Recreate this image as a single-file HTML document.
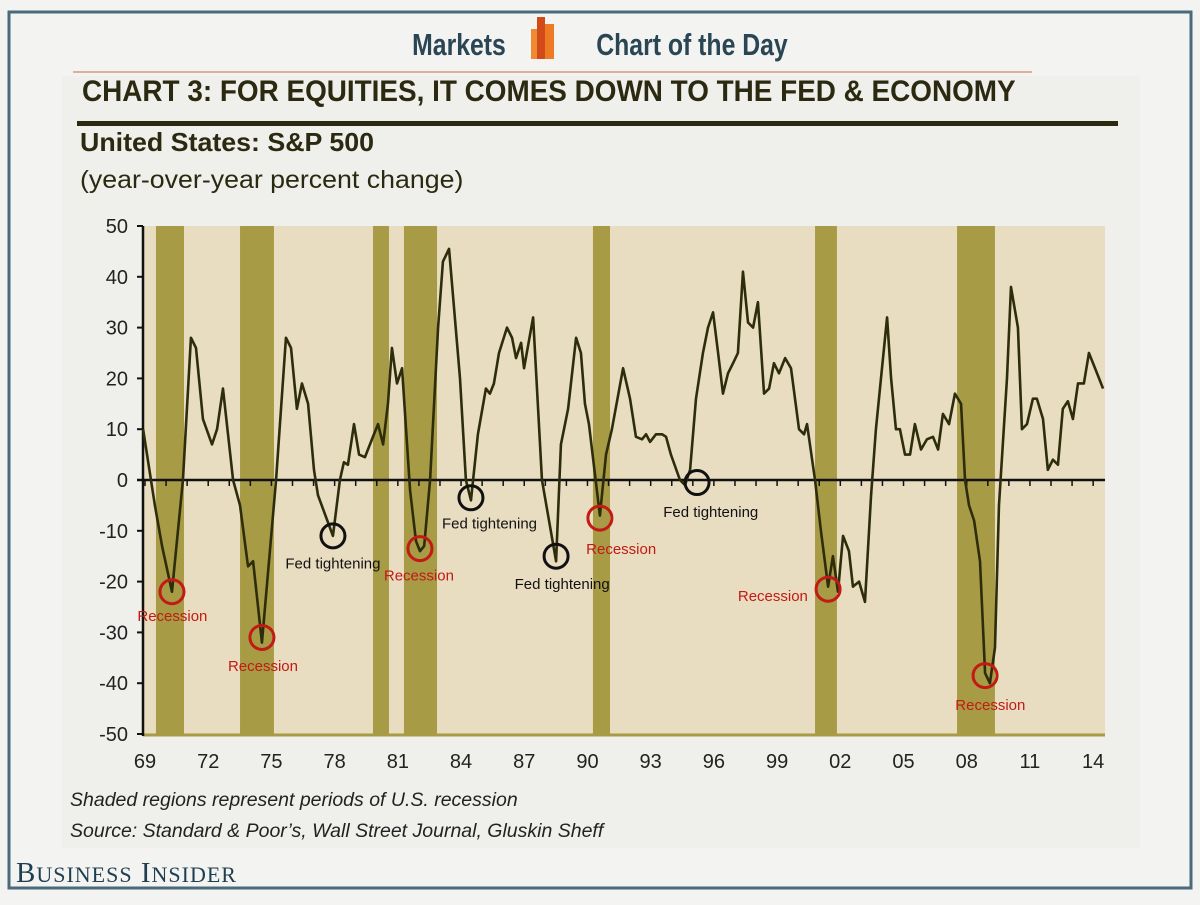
<!DOCTYPE html>
<html><head><meta charset="utf-8">
<style>
html,body{margin:0;padding:0;background:#f4f4f2;}
body{width:1200px;height:900px;position:relative;overflow:hidden;font-family:"Liberation Sans",sans-serif;}
</style></head>
<body>
<svg width="1200" height="900" viewBox="0 0 1200 900" xmlns="http://www.w3.org/2000/svg">
<rect x="0" y="0" width="1200" height="900" fill="#f3f3f1"/>
<rect x="9" y="12" width="1182" height="876" fill="none" stroke="#4a6a7a" stroke-width="3"/>
<rect x="62" y="76" width="1078" height="772" fill="#efefec"/>
<text x="459" y="55" font-size="31" font-weight="bold" fill="#2a4654" text-anchor="middle" transform="translate(459,0) scale(0.8,1) translate(-459,0)">Markets</text>
<g>
<rect x="531" y="29" width="10" height="30" fill="#f08a30"/>
<rect x="537" y="17" width="8" height="42" fill="#d24a1a"/>
<rect x="545" y="24" width="9" height="35" fill="#ef7a24"/>
</g>
<text x="692" y="55" font-size="31" font-weight="bold" fill="#2a4654" text-anchor="middle" transform="translate(692,0) scale(0.8,1) translate(-692,0)">Chart of the Day</text>
<line x1="73" y1="72" x2="1032" y2="72" stroke="#d89a80" stroke-width="1.5"/>
<text x="82" y="101" font-size="30" font-weight="bold" fill="#2b2a10" transform="translate(82,0) scale(0.93,1) translate(-82,0)">CHART 3: FOR EQUITIES, IT COMES DOWN TO THE FED &amp; ECONOMY</text>
<rect x="77" y="121" width="1041" height="5" fill="#2b2a10"/>
<text x="80" y="151" font-size="26" font-weight="bold" fill="#2b2a10" transform="translate(80,0) scale(1.03,1) translate(-80,0)">United States: S&amp;P 500</text>
<text x="80" y="188" font-size="25" fill="#2b2a10" transform="translate(80,0) scale(1.07,1) translate(-80,0)">(year-over-year percent change)</text>
<g id="plot"></g>
<text x="70" y="806" font-size="19.5" font-style="italic" fill="#222">Shaded regions represent periods of U.S. recession</text>
<text x="70" y="837" font-size="19.5" font-style="italic" fill="#222">Source: Standard &amp; Poor’s, Wall Street Journal, Gluskin Sheff</text>
<text x="16" y="882" font-family="Liberation Serif,serif" font-size="29" fill="#1f3f4f" letter-spacing="1">B<tspan font-size="22">USINESS</tspan> I<tspan font-size="22">NSIDER</tspan></text>
</svg>
<script>
const yearTicks=[69,72,75,78,81,84,87,90,93,96,99,2,5,8,11,14];
const yTicks=[50,40,30,20,10,0,-10,-20,-30,-40,-50];
const recessions=[[1969.52,1970.85],[1973.51,1975.12],[1979.82,1980.58],[1981.29,1982.86],[1990.26,1991.07],[2000.80,2001.84],[2007.54,2009.34]];
const years=[1968.91,1969.47,1969.81,1970.28,1970.80,1971.18,1971.42,1971.75,1972.18,1972.42,1972.70,1973.18,1973.51,1973.89,1974.13,1974.55,1975.22,1975.69,1975.93,1976.21,1976.45,1976.74,1977.02,1977.21,1977.92,1978.25,1978.44,1978.63,1978.92,1979.16,1979.44,1979.77,1980.06,1980.30,1980.53,1980.72,1980.96,1981.20,1981.58,1981.86,1982.05,1982.25,1982.53,1982.91,1983.14,1983.43,1983.95,1984.23,1984.47,1984.80,1985.18,1985.37,1985.56,1985.80,1986.18,1986.42,1986.61,1986.85,1986.99,1987.42,1987.84,1988.51,1988.74,1989.08,1989.46,1989.69,1989.88,1990.07,1990.59,1990.88,1991.16,1991.69,1992.02,1992.30,1992.59,1992.78,1992.97,1993.25,1993.54,1993.73,1993.96,1994.39,1994.63,1994.87,1995.15,1995.48,1995.72,1995.96,1996.20,1996.43,1996.67,1996.91,1997.14,1997.38,1997.62,1997.86,1998.09,1998.38,1998.62,1998.85,1999.09,1999.38,1999.66,2000.04,2000.28,2000.42,2000.80,2001.08,2001.42,2001.65,2001.89,2002.13,2002.41,2002.60,2002.89,2003.17,2003.46,2003.69,2003.93,2004.22,2004.41,2004.64,2004.83,2005.07,2005.31,2005.54,2005.83,2006.11,2006.40,2006.64,2006.87,2007.16,2007.44,2007.73,2007.92,2008.11,2008.35,2008.63,2008.87,2009.10,2009.34,2009.53,2009.91,2010.10,2010.43,2010.62,2010.86,2011.14,2011.33,2011.62,2011.85,2012.09,2012.33,2012.56,2012.80,2013.04,2013.28,2013.56,2013.80,2014.09,2014.47];
const values=[10,-5,-13,-22,0,28,26,12,7,10,18,0,-5,-17,-16,-32,0,28,26,14,19,15,2,-3,-11,0,3.5,3,11,5,4.5,8,11,7,15,26,19,22,-2,-12,-14,-13,0,30,43,45.5,20,0,-4,9,18,17,19,25,30,28,24,27,22,32,0,-16,7,14,28,25,15,11,-7,5,10,22,16,8.5,8,9,7.5,9,9,8.5,5,0,-1,2,16,25,30,33,25,17,21,23,25,41,31,30,35,17,18,23,21,24,22,10,9,11,0,-10,-21,-15,-22,-11,-14,-21,-20,-24,-3,10,20,32,20,10,10,5,5,11,6,8,8.5,6,13,11,17,15,0,-5,-8,-16,-38,-40,-33,-5,20,38,30,10,11,16,16,12,2,4,3,14,15.5,12,19,19,25,22,18,18];
const redMarks=[[1970.28,-22],[1974.55,-31],[1982.05,-13.5],[1990.59,-7.5],[2001.42,-21.5],[2008.87,-38.5]];
const redLabels=[[1970.30,-26.8],[1974.60,-36.6],[1982.00,-18.8],[1991.60,-13.6],[1998.80,-22.8],[2009.12,-44.3]];
const blackMarks=[[1977.92,-11],[1984.47,-3.5],[1988.51,-15],[1995.20,-0.5]];
const blackLabels=[[1977.92,-16.4],[1985.35,-8.6],[1988.80,-20.5],[1995.85,-6.3]];

const X0=145,PX=21.07,Y0=480,PY=5.08;
const xs=y=>X0+(y-1969)*PX, ys=v=>Y0-v*PY;
const NS="http://www.w3.org/2000/svg";
const g=document.getElementById('plot');


function mk(t,a,p){const e=document.createElementNS(NS,t);for(const k in a)e.setAttribute(k,a[k]);(p||g).appendChild(e);return e;}
const pl=xs(1969.0)-2, pr=1105;
const bg=mk('rect',{x:pl,y:ys(50),width:pr-pl,height:ys(-50)-ys(50),fill:'#e9ddc1'});


recessions.forEach(r=>{
 const e=mk('rect',{x:xs(r[0]),y:ys(50),width:xs(r[1])-xs(r[0]),height:ys(-50)-ys(50),fill:'#a89b45'});
 
 
});
const bl=mk('line',{x1:pl,x2:pr,y1:ys(-50)+1,y2:ys(-50)+1,stroke:'#a89b45','stroke-width':3});


const ya=mk('line',{x1:143,x2:143,y1:ys(50),y2:ys(-50)+2,stroke:'#111','stroke-width':2.5});


yTicks.forEach(v=>{
 mk('line',{x1:137,x2:143,y1:ys(v),y2:ys(v),stroke:'#111','stroke-width':2});
 const t=mk('text',{x:128,y:ys(v)+7,'font-size':20,'text-anchor':'end',fill:'#222'});
 t.textContent=v;
 
 
});
const za=mk('line',{x1:137,x2:pr,y1:ys(0),y2:ys(0),stroke:'#111','stroke-width':2.5});


for(let y=1969;y<=2014;y++){mk('line',{x1:xs(y),x2:xs(y),y1:ys(0),y2:ys(0)+6,stroke:'#111','stroke-width':1.5});}
yearTicks.forEach(v=>{
 const yr=v>=50?1900+v:2000+v;
 const t=mk('text',{x:xs(yr),y:768,'font-size':20,'text-anchor':'middle',fill:'#222'});
 t.textContent=String(v).padStart(2,'0');
 
 
});
const line=mk('polyline',{points:years.map((y,i)=>xs(y)+','+ys(values[i])).join(' '),fill:'none',stroke:'#2d2d0c','stroke-width':2.6,'stroke-linejoin':'round'});


redMarks.forEach((m,i)=>{
 const c=mk('circle',{cx:xs(m[0]),cy:ys(m[1]),r:12,fill:'none',stroke:'#c21a14','stroke-width':3});
 
 
 const t=mk('text',{x:xs(redLabels[i][0]),y:ys(redLabels[i][1])+5,'font-size':15,'text-anchor':'middle',fill:'#c21a14'});
 t.textContent='Recession';
 
 
});
blackMarks.forEach((m,i)=>{
 const c=mk('circle',{cx:xs(m[0]),cy:ys(m[1]),r:12,fill:'none',stroke:'#111','stroke-width':3});
 
 
 const t=mk('text',{x:xs(blackLabels[i][0]),y:ys(blackLabels[i][1])+5,'font-size':15,'text-anchor':'middle',fill:'#111'});
 t.textContent='Fed tightening';
 
 
});
</script>
</body></html>
